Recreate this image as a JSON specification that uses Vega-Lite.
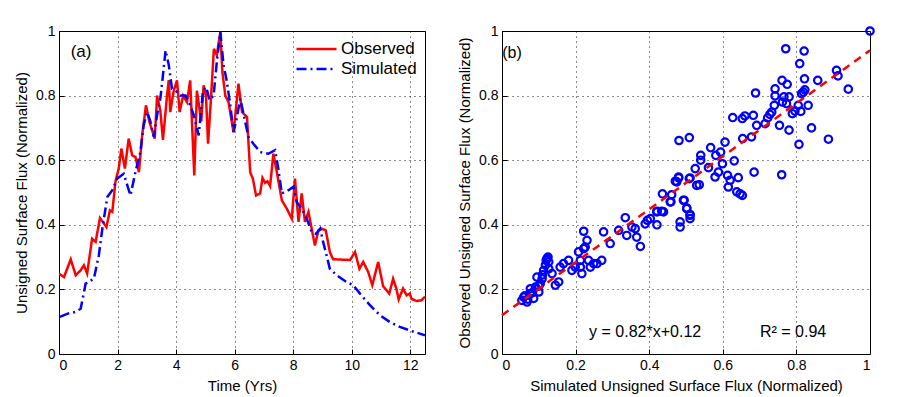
{
  "$schema": "https://vega.github.io/schema/vega-lite/v6.json",
  "background": "white",
  "padding": {"left": 14, "top": 22, "right": 5, "bottom": 5},
  "spacing": 31,
  "resolve": {"scale": {"color": "independent", "strokeDash": "independent"}, "legend": {"color": "independent", "strokeDash": "independent"}},
  "config": {
    "font": "Liberation Sans",
    "view": {"stroke": "black", "strokeWidth": 1},
    "axis": {
      "labelFontSize": 14, "titleFontSize": 15, "titleFontWeight": "normal",
      "labelColor": "black", "titleColor": "black",
      "domain": false, "grid": true, "gridColor": "black", "gridDash": [1, 4], "gridOpacity": 0.9,
      "tickColor": "black", "tickSize": -5, "labelPadding": 9, "titlePadding": 6
    }
  },
  "hconcat": [
    {
      "width": 366, "height": 323,
      "layer": [
        {
          "data": {"values": [
            {"t":0,"v":0.249,"series":"Observed"},{"t":0.17,"v":0.238,"series":"Observed"},{"t":0.4,"v":0.293,"series":"Observed"},{"t":0.57,"v":0.244,"series":"Observed"},{"t":0.74,"v":0.259,"series":"Observed"},{"t":0.85,"v":0.275,"series":"Observed"},{"t":0.96,"v":0.249,"series":"Observed"},{"t":1.13,"v":0.357,"series":"Observed"},{"t":1.25,"v":0.347,"series":"Observed"},{"t":1.4,"v":0.421,"series":"Observed"},{"t":1.62,"v":0.393,"series":"Observed"},{"t":1.74,"v":0.445,"series":"Observed"},{"t":1.82,"v":0.44,"series":"Observed"},{"t":1.93,"v":0.535,"series":"Observed"},{"t":2.04,"v":0.574,"series":"Observed"},{"t":2.13,"v":0.636,"series":"Observed"},{"t":2.25,"v":0.574,"series":"Observed"},{"t":2.38,"v":0.667,"series":"Observed"},{"t":2.5,"v":0.615,"series":"Observed"},{"t":2.61,"v":0.61,"series":"Observed"},{"t":2.73,"v":0.563,"series":"Observed"},{"t":2.84,"v":0.677,"series":"Observed"},{"t":2.97,"v":0.77,"series":"Observed"},{"t":3.09,"v":0.718,"series":"Observed"},{"t":3.27,"v":0.667,"series":"Observed"},{"t":3.35,"v":0.8,"series":"Observed"},{"t":3.46,"v":0.754,"series":"Observed"},{"t":3.55,"v":0.663,"series":"Observed"},{"t":3.69,"v":0.8,"series":"Observed"},{"t":3.75,"v":0.848,"series":"Observed"},{"t":3.8,"v":0.749,"series":"Observed"},{"t":3.92,"v":0.816,"series":"Observed"},{"t":4.03,"v":0.847,"series":"Observed"},{"t":4.12,"v":0.749,"series":"Observed"},{"t":4.24,"v":0.8,"series":"Observed"},{"t":4.37,"v":0.78,"series":"Observed"},{"t":4.48,"v":0.847,"series":"Observed"},{"t":4.62,"v":0.553,"series":"Observed"},{"t":4.71,"v":0.815,"series":"Observed"},{"t":4.86,"v":0.72,"series":"Observed"},{"t":4.94,"v":0.832,"series":"Observed"},{"t":5.02,"v":0.8,"series":"Observed"},{"t":5.09,"v":0.651,"series":"Observed"},{"t":5.19,"v":0.79,"series":"Observed"},{"t":5.29,"v":0.945,"series":"Observed"},{"t":5.39,"v":0.925,"series":"Observed"},{"t":5.51,"v":0.997,"series":"Observed"},{"t":5.58,"v":0.873,"series":"Observed"},{"t":5.68,"v":0.8,"series":"Observed"},{"t":5.79,"v":0.78,"series":"Observed"},{"t":5.96,"v":0.687,"series":"Observed"},{"t":6.13,"v":0.837,"series":"Observed"},{"t":6.25,"v":0.749,"series":"Observed"},{"t":6.42,"v":0.734,"series":"Observed"},{"t":6.53,"v":0.563,"series":"Observed"},{"t":6.62,"v":0.543,"series":"Observed"},{"t":6.73,"v":0.491,"series":"Observed"},{"t":6.87,"v":0.497,"series":"Observed"},{"t":6.95,"v":0.545,"series":"Observed"},{"t":7.04,"v":0.53,"series":"Observed"},{"t":7.12,"v":0.535,"series":"Observed"},{"t":7.21,"v":0.52,"series":"Observed"},{"t":7.32,"v":0.62,"series":"Observed"},{"t":7.44,"v":0.563,"series":"Observed"},{"t":7.61,"v":0.476,"series":"Observed"},{"t":7.78,"v":0.45,"series":"Observed"},{"t":7.95,"v":0.419,"series":"Observed"},{"t":8.06,"v":0.543,"series":"Observed"},{"t":8.18,"v":0.409,"series":"Observed"},{"t":8.29,"v":0.497,"series":"Observed"},{"t":8.4,"v":0.409,"series":"Observed"},{"t":8.52,"v":0.44,"series":"Observed"},{"t":8.63,"v":0.388,"series":"Observed"},{"t":8.74,"v":0.336,"series":"Observed"},{"t":8.86,"v":0.383,"series":"Observed"},{"t":8.97,"v":0.388,"series":"Observed"},{"t":9.11,"v":0.383,"series":"Observed"},{"t":9.25,"v":0.316,"series":"Observed"},{"t":9.36,"v":0.293,"series":"Observed"},{"t":9.47,"v":0.293,"series":"Observed"},{"t":9.94,"v":0.291,"series":"Observed"},{"t":10.11,"v":0.316,"series":"Observed"},{"t":10.26,"v":0.264,"series":"Observed"},{"t":10.39,"v":0.285,"series":"Observed"},{"t":10.56,"v":0.254,"series":"Observed"},{"t":10.7,"v":0.213,"series":"Observed"},{"t":10.9,"v":0.285,"series":"Observed"},{"t":11.07,"v":0.21,"series":"Observed"},{"t":11.28,"v":0.187,"series":"Observed"},{"t":11.41,"v":0.233,"series":"Observed"},{"t":11.52,"v":0.203,"series":"Observed"},{"t":11.6,"v":0.169,"series":"Observed"},{"t":11.75,"v":0.203,"series":"Observed"},{"t":11.87,"v":0.182,"series":"Observed"},{"t":11.98,"v":0.187,"series":"Observed"},{"t":12.04,"v":0.171,"series":"Observed"},{"t":12.21,"v":0.164,"series":"Observed"},{"t":12.38,"v":0.166,"series":"Observed"},{"t":12.5,"v":0.178,"series":"Observed"},
            {"t":0.03,"v":0.115,"series":"Simulated"},{"t":0.3,"v":0.125,"series":"Simulated"},{"t":0.55,"v":0.13,"series":"Simulated"},{"t":0.74,"v":0.14,"series":"Simulated"},{"t":0.91,"v":0.218,"series":"Simulated"},{"t":1.19,"v":0.233,"series":"Simulated"},{"t":1.36,"v":0.305,"series":"Simulated"},{"t":1.48,"v":0.388,"series":"Simulated"},{"t":1.65,"v":0.486,"series":"Simulated"},{"t":1.82,"v":0.507,"series":"Simulated"},{"t":1.99,"v":0.543,"series":"Simulated"},{"t":2.21,"v":0.558,"series":"Simulated"},{"t":2.44,"v":0.491,"series":"Simulated"},{"t":2.61,"v":0.563,"series":"Simulated"},{"t":2.78,"v":0.625,"series":"Simulated"},{"t":2.89,"v":0.708,"series":"Simulated"},{"t":3.01,"v":0.749,"series":"Simulated"},{"t":3.12,"v":0.72,"series":"Simulated"},{"t":3.24,"v":0.672,"series":"Simulated"},{"t":3.35,"v":0.74,"series":"Simulated"},{"t":3.46,"v":0.79,"series":"Simulated"},{"t":3.55,"v":0.863,"series":"Simulated"},{"t":3.64,"v":0.94,"series":"Simulated"},{"t":3.75,"v":0.894,"series":"Simulated"},{"t":3.86,"v":0.821,"series":"Simulated"},{"t":3.97,"v":0.816,"series":"Simulated"},{"t":4.15,"v":0.8,"series":"Simulated"},{"t":4.32,"v":0.8,"series":"Simulated"},{"t":4.48,"v":0.77,"series":"Simulated"},{"t":4.6,"v":0.74,"series":"Simulated"},{"t":4.77,"v":0.677,"series":"Simulated"},{"t":4.92,"v":0.816,"series":"Simulated"},{"t":5.03,"v":0.826,"series":"Simulated"},{"t":5.14,"v":0.786,"series":"Simulated"},{"t":5.28,"v":0.8,"series":"Simulated"},{"t":5.39,"v":0.904,"series":"Simulated"},{"t":5.51,"v":0.997,"series":"Simulated"},{"t":5.62,"v":0.894,"series":"Simulated"},{"t":5.73,"v":0.845,"series":"Simulated"},{"t":5.85,"v":0.77,"series":"Simulated"},{"t":5.96,"v":0.687,"series":"Simulated"},{"t":6.07,"v":0.73,"series":"Simulated"},{"t":6.19,"v":0.79,"series":"Simulated"},{"t":6.3,"v":0.745,"series":"Simulated"},{"t":6.36,"v":0.718,"series":"Simulated"},{"t":6.47,"v":0.672,"series":"Simulated"},{"t":6.64,"v":0.651,"series":"Simulated"},{"t":6.87,"v":0.625,"series":"Simulated"},{"t":7.15,"v":0.62,"series":"Simulated"},{"t":7.38,"v":0.631,"series":"Simulated"},{"t":7.49,"v":0.574,"series":"Simulated"},{"t":7.61,"v":0.497,"series":"Simulated"},{"t":7.84,"v":0.507,"series":"Simulated"},{"t":8.01,"v":0.518,"series":"Simulated"},{"t":8.12,"v":0.47,"series":"Simulated"},{"t":8.29,"v":0.45,"series":"Simulated"},{"t":8.46,"v":0.419,"series":"Simulated"},{"t":8.63,"v":0.378,"series":"Simulated"},{"t":8.78,"v":0.372,"series":"Simulated"},{"t":8.92,"v":0.388,"series":"Simulated"},{"t":9.02,"v":0.347,"series":"Simulated"},{"t":9.14,"v":0.305,"series":"Simulated"},{"t":9.25,"v":0.264,"series":"Simulated"},{"t":9.48,"v":0.244,"series":"Simulated"},{"t":9.82,"v":0.223,"series":"Simulated"},{"t":10.05,"v":0.213,"series":"Simulated"},{"t":10.28,"v":0.187,"series":"Simulated"},{"t":10.62,"v":0.151,"series":"Simulated"},{"t":10.96,"v":0.12,"series":"Simulated"},{"t":11.3,"v":0.099,"series":"Simulated"},{"t":11.64,"v":0.084,"series":"Simulated"},{"t":11.98,"v":0.073,"series":"Simulated"},{"t":12.32,"v":0.063,"series":"Simulated"},{"t":12.5,"v":0.058,"series":"Simulated"}
          ]},
          "mark": {"type": "line", "strokeWidth": 2.5, "clip": true},
          "encoding": {
            "x": {"field": "t", "type": "quantitative", "scale": {"domain": [0, 12.5], "nice": false}, "axis": {"values": [0, 2, 4, 6, 8, 10, 12], "title": "Time (Yrs)"}},
            "y": {"field": "v", "type": "quantitative", "scale": {"domain": [0, 1], "nice": false}, "axis": {"values": [0, 0.2, 0.4, 0.6, 0.8, 1], "format": "~g", "title": "Unsigned Surface Flux (Normalized)"}},
            "color": {"field": "series", "type": "nominal", "scale": {"domain": ["Observed", "Simulated"], "range": ["#ff0000", "#0000ff"]},
              "legend": {"orient": "top-right", "title": null, "labelFontSize": 17, "labelColor": "black", "symbolType": "stroke", "symbolSize": 1600, "symbolStrokeWidth": 2.5, "offset": 8, "padding": 0, "rowPadding": 0, "clipHeight": 20, "labelOffset": 3}},
            "strokeDash": {"field": "series", "type": "nominal", "scale": {"domain": ["Observed", "Simulated"], "range": [[1, 0], [10, 4, 2, 4]]}, "legend": null},
            "order": {"field": "t", "type": "quantitative"}
          }
        },
        {
          "data": {"values": [{"t": 0.4, "v": 0.935, "label": "(a)"}]},
          "mark": {"type": "text", "align": "left", "baseline": "middle", "fontSize": 17, "color": "black"},
          "encoding": {
            "x": {"field": "t", "type": "quantitative"},
            "y": {"field": "v", "type": "quantitative"},
            "text": {"field": "label"}
          }
        }
      ]
    },
    {
      "width": 368, "height": 323,
      "layer": [
        {
          "data": {"values": [
            {"sim":0.059,"obs":0.176},{"sim":0.054,"obs":0.166},{"sim":0.068,"obs":0.161},{"sim":0.077,"obs":0.187},{"sim":0.086,"obs":0.172},{"sim":0.077,"obs":0.202},{"sim":0.091,"obs":0.207},{"sim":0.095,"obs":0.238},{"sim":0.1,"obs":0.192},{"sim":0.104,"obs":0.218},{"sim":0.109,"obs":0.233},{"sim":0.113,"obs":0.259},{"sim":0.118,"obs":0.275},{"sim":0.122,"obs":0.295},{"sim":0.127,"obs":0.285},{"sim":0.127,"obs":0.264},{"sim":0.136,"obs":0.249},{"sim":0.145,"obs":0.213},{"sim":0.154,"obs":0.223},{"sim":0.158,"obs":0.269},{"sim":0.167,"obs":0.28},{"sim":0.181,"obs":0.29},{"sim":0.19,"obs":0.259},{"sim":0.199,"obs":0.269},{"sim":0.213,"obs":0.269},{"sim":0.217,"obs":0.249},{"sim":0.213,"obs":0.29},{"sim":0.208,"obs":0.316},{"sim":0.222,"obs":0.326},{"sim":0.226,"obs":0.331},{"sim":0.231,"obs":0.352},{"sim":0.222,"obs":0.38},{"sim":0.235,"obs":0.29},{"sim":0.24,"obs":0.269},{"sim":0.249,"obs":0.28},{"sim":0.258,"obs":0.28},{"sim":0.271,"obs":0.29},{"sim":0.276,"obs":0.378},{"sim":0.294,"obs":0.342},{"sim":0.317,"obs":0.383},{"sim":0.335,"obs":0.422},{"sim":0.339,"obs":0.367},{"sim":0.353,"obs":0.393},{"sim":0.362,"obs":0.388},{"sim":0.366,"obs":0.362},{"sim":0.376,"obs":0.333},{"sim":0.389,"obs":0.403},{"sim":0.395,"obs":0.414},{"sim":0.403,"obs":0.419},{"sim":0.421,"obs":0.4},{"sim":0.421,"obs":0.44},{"sim":0.439,"obs":0.44},{"sim":0.436,"obs":0.496},{"sim":0.457,"obs":0.471},{"sim":0.461,"obs":0.493},{"sim":0.471,"obs":0.535},{"sim":0.48,"obs":0.545},{"sim":0.484,"obs":0.409},{"sim":0.484,"obs":0.393},{"sim":0.493,"obs":0.476},{"sim":0.502,"obs":0.45},{"sim":0.511,"obs":0.429},{"sim":0.511,"obs":0.419},{"sim":0.511,"obs":0.545},{"sim":0.525,"obs":0.574},{"sim":0.529,"obs":0.522},
            {"sim":0.062,"obs":0.18},{"sim":0.07,"obs":0.17},{"sim":0.083,"obs":0.19},{"sim":0.1,"obs":0.21},{"sim":0.11,"obs":0.245},{"sim":0.12,"obs":0.29},{"sim":0.125,"obs":0.3},
            {"sim":1.0,"obs":1.0},{"sim":0.771,"obs":0.945},{"sim":0.821,"obs":0.938},{"sim":0.809,"obs":0.899},{"sim":0.909,"obs":0.878},{"sim":0.913,"obs":0.861},{"sim":0.941,"obs":0.82},{"sim":0.858,"obs":0.847},{"sim":0.822,"obs":0.852},{"sim":0.761,"obs":0.847},{"sim":0.775,"obs":0.835},{"sim":0.742,"obs":0.821},{"sim":0.689,"obs":0.808},{"sim":0.742,"obs":0.799},{"sim":0.766,"obs":0.796},{"sim":0.78,"obs":0.796},{"sim":0.819,"obs":0.811},{"sim":0.823,"obs":0.818},{"sim":0.814,"obs":0.806},{"sim":0.805,"obs":0.77},{"sim":0.832,"obs":0.77},{"sim":0.812,"obs":0.751},{"sim":0.789,"obs":0.744},{"sim":0.796,"obs":0.752},{"sim":0.773,"obs":0.775},{"sim":0.762,"obs":0.78},{"sim":0.74,"obs":0.77},{"sim":0.733,"obs":0.749},{"sim":0.728,"obs":0.742},{"sim":0.722,"obs":0.731},{"sim":0.715,"obs":0.713},{"sim":0.692,"obs":0.708},{"sim":0.754,"obs":0.708},{"sim":0.78,"obs":0.693},{"sim":0.841,"obs":0.7},{"sim":0.887,"obs":0.665},{"sim":0.807,"obs":0.649},{"sim":0.683,"obs":0.739},{"sim":0.66,"obs":0.737},{"sim":0.653,"obs":0.729},{"sim":0.627,"obs":0.732},{"sim":0.678,"obs":0.672},{"sim":0.654,"obs":0.667},{"sim":0.606,"obs":0.656},{"sim":0.594,"obs":0.625},{"sim":0.581,"obs":0.615},{"sim":0.567,"obs":0.639},{"sim":0.54,"obs":0.615},{"sim":0.54,"obs":0.6},{"sim":0.561,"obs":0.577},{"sim":0.509,"obs":0.67},{"sim":0.481,"obs":0.661},{"sim":0.509,"obs":0.543},{"sim":0.48,"obs":0.548},{"sim":0.475,"obs":0.533},{"sim":0.536,"obs":0.524},{"sim":0.579,"obs":0.548},{"sim":0.588,"obs":0.563},{"sim":0.599,"obs":0.589},{"sim":0.631,"obs":0.598},{"sim":0.613,"obs":0.553},{"sim":0.62,"obs":0.538},{"sim":0.642,"obs":0.546},{"sim":0.615,"obs":0.517},{"sim":0.638,"obs":0.502},{"sim":0.653,"obs":0.491},{"sim":0.647,"obs":0.496},{"sim":0.685,"obs":0.563},{"sim":0.76,"obs":0.555},{"sim":0.459,"obs":0.471},{"sim":0.495,"obs":0.476},{"sim":0.502,"obs":0.452},{"sim":0.511,"obs":0.432},{"sim":0.421,"obs":0.442},{"sim":0.434,"obs":0.442}
          ]},
          "mark": {"type": "point", "shape": "circle", "filled": false, "color": "#0000ff", "size": 55, "strokeWidth": 2.2, "opacity": 1},
          "encoding": {
            "x": {"field": "sim", "type": "quantitative", "scale": {"domain": [0, 1], "nice": false}, "axis": {"values": [0, 0.2, 0.4, 0.6, 0.8, 1], "format": "~g", "title": "Simulated Unsigned Surface Flux (Normalized)"}},
            "y": {"field": "obs", "type": "quantitative", "scale": {"domain": [0, 1], "nice": false}, "axis": {"values": [0, 0.2, 0.4, 0.6, 0.8, 1], "format": "~g", "title": "Observed Unsigned Surface Flux (Normalized)"}}
          }
        },
        {
          "data": {"values": [{"sim": 0, "obs": 0.12}, {"sim": 1, "obs": 0.94}]},
          "mark": {"type": "line", "color": "#ff0000", "strokeWidth": 2.5, "strokeDash": [8, 6]},
          "encoding": {
            "x": {"field": "sim", "type": "quantitative"},
            "y": {"field": "obs", "type": "quantitative"}
          }
        },
        {
          "data": {"values": [
            {"sim": 0.027, "obs": 0.932, "label": "(b)", "al": "left"},
            {"sim": 0.389, "obs": 0.068, "label": "y = 0.82*x+0.12", "al": "center"},
            {"sim": 0.791, "obs": 0.068, "label": "R² = 0.94", "al": "center"}
          ]},
          "mark": {"type": "text", "baseline": "middle", "fontSize": 16, "color": "black"},
          "encoding": {
            "x": {"field": "sim", "type": "quantitative"},
            "y": {"field": "obs", "type": "quantitative"},
            "text": {"field": "label"},
            "align": {"field": "al", "type": "nominal", "scale": null}
          }
        }
      ]
    }
  ]
}
